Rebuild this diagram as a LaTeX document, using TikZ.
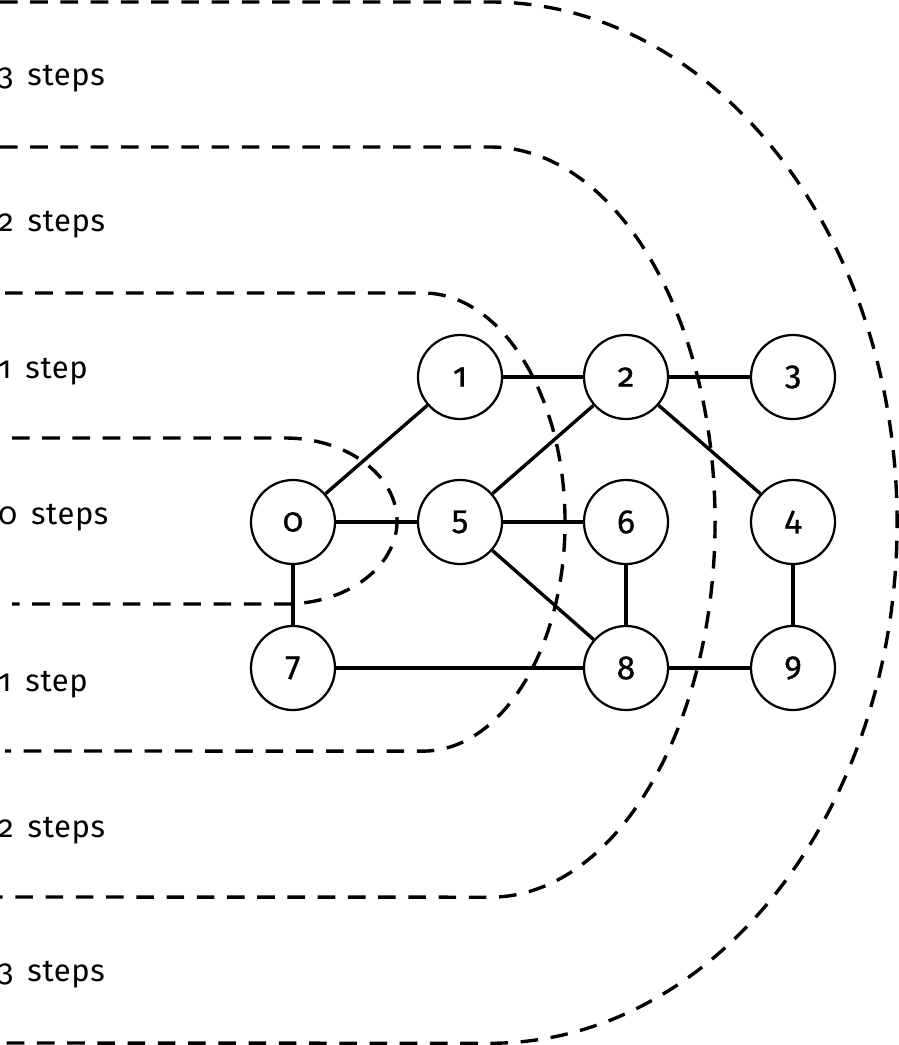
\documentclass[tikz,border=0pt]{standalone}
\usepackage{fontspec}
\setmainfont{Fira Sans}[Numbers=OldStyle, FakeBold=0.6]
\newfontfamily\stepfont{Fira Sans}[Numbers=OldStyle, LetterSpace=2, WordSpace=1.6]

\tikzset{
  vertex/.style={circle, draw, line width=1.6pt, fill=white, minimum size=2.1cm,
    inner sep=0pt, font=\fontsize{24}{28}\selectfont},
  edge/.style={line width=2.4pt},
  ring/.style={line width=2.4pt, dash pattern=on 12.5pt off 9pt},
  steplabel/.style={anchor=base west, inner sep=0pt,
    font=\stepfont\fontsize{22}{26}\selectfont}
}

\begin{document}
\begin{tikzpicture}[x=0.025cm, y=-0.025cm]
\useasboundingbox (0,0) rectangle (899,1045);

% Rings of equal distance from vertex 0
\draw[ring] (12,438) -- (285,438)
    arc[start angle=90, end angle=-90, x radius=2.8cm, y radius=2.075cm] -- (12,604);
\draw[ring] (5,293) -- (423,293)
    arc[start angle=90, end angle=-90, x radius=3.55cm, y radius=5.725cm] -- (5,751);
\draw[ring] (0,147) -- (490,147)
    arc[start angle=90, end angle=-90, x radius=5.625cm, y radius=9.375cm] -- (0,897);
\draw[ring] (0,2) -- (490,2)
    arc[start angle=90, end angle=-90, x radius=10.175cm, y radius=13.0125cm] -- (0,1043);

% Step labels
\node[steplabel] (top3) at (-2,86) {3 steps};
\node[steplabel] (top2) at (-2,231) {2 steps};
\node[steplabel] (top1) at (-2,378) {1 step};
\node[steplabel] (mid0) at (-2,524) {0 steps};
\node[steplabel] (bot1) at (-2,691) {1 step};
\node[steplabel] (bot2) at (-2,837) {2 steps};
\node[steplabel] (bot3) at (-2,981) {3 steps};

% Vertices
\node[vertex] (v0) at (293,522) {0};
\node[vertex] (v1) at (460,377) {1};
\node[vertex] (v2) at (626,377) {2};
\node[vertex] (v3) at (793,377) {3};
\node[vertex] (v5) at (460,522) {5};
\node[vertex] (v6) at (626,522) {6};
\node[vertex] (v4) at (793,522) {4};
\node[vertex] (v7) at (293,668) {7};
\node[vertex] (v8) at (626,668) {8};
\node[vertex] (v9) at (793,668) {9};

% Edges
\draw[edge] (v0) -- (v1);
\draw[edge] (v0) -- (v5);
\draw[edge] (v0) -- (v7);
\draw[edge] (v1) -- (v2);
\draw[edge] (v2) -- (v3);
\draw[edge] (v2) -- (v5);
\draw[edge] (v2) -- (v4);
\draw[edge] (v5) -- (v6);
\draw[edge] (v5) -- (v8);
\draw[edge] (v6) -- (v8);
\draw[edge] (v7) -- (v8);
\draw[edge] (v8) -- (v9);
\draw[edge] (v4) -- (v9);
\end{tikzpicture}
\end{document}
